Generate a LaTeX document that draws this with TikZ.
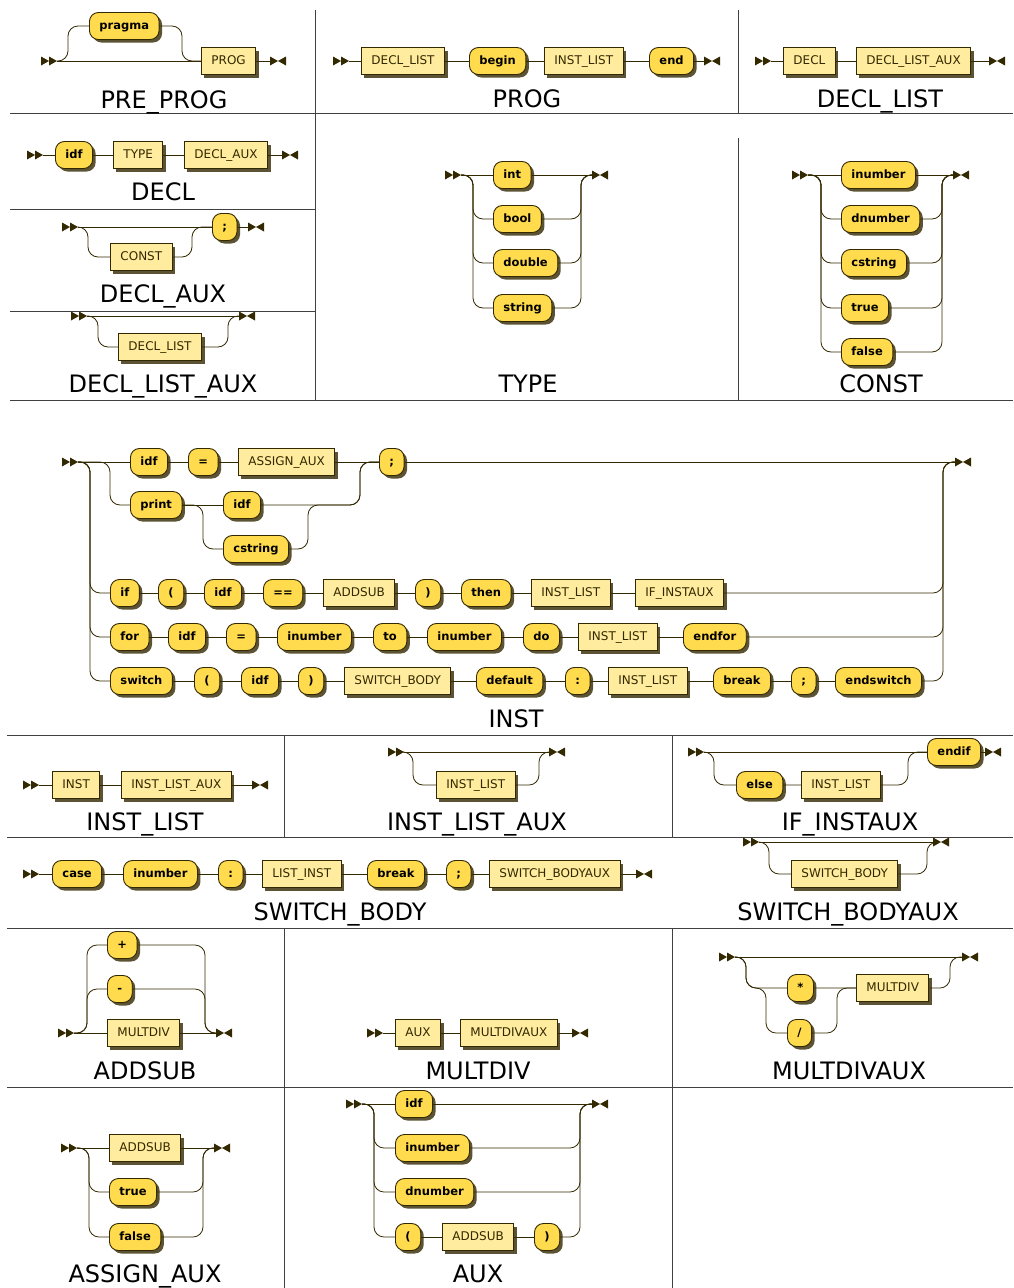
\documentclass[tikz,border=0pt]{standalone}
\usepackage{fontspec}
\setmainfont{DejaVu Sans}
\usetikzlibrary{shadows}
\definecolor{rrline}{HTML}{332900}
\definecolor{termfill}{HTML}{FFDB4D}
\definecolor{ntfill}{HTML}{FFEC9E}
\tikzset{
	rrbox/.style={draw=rrline, line width=.9pt, anchor=west, minimum height=27pt, inner xsep=10pt, inner ysep=0pt,
		text height=9pt, text depth=2.5pt,
		drop shadow={shadow xshift=3pt, shadow yshift=-3pt, fill=rrline, opacity=.8}},
	term/.style={rrbox, fill=termfill, rounded corners=9pt, text=black, font=\fontsize{11.5}{13}\selectfont\bfseries},
	nterm/.style={rrbox, fill=ntfill, text=rrline, font=\fontsize{12}{14}\selectfont},
	rail/.style={draw=rrline, line width=.8pt, rounded corners=10pt},
	rrtitle/.style={anchor=base, font=\fontsize{24}{28}\selectfont},
	cellline/.style={draw=black!75, line width=1pt},
	rrstart/.pic={\fill[rrline] (0,-4.5) -- (8,0) -- (0,4.5) -- cycle (8,-4.5) -- (16,0) -- (8,4.5) -- cycle;
		\coordinate (-out) at (16,0);},
	rrend/.pic={\fill[rrline] (0,-4.5) -- (8,0) -- (0,4.5) -- cycle (16,-4.5) -- (8,0) -- (16,4.5) -- cycle;
		\coordinate (-in) at (0,0);},
}
\begin{document}
\begin{tikzpicture}[x=1pt,y=-1pt]
		\fill[white] (0,0) rectangle (1013,1288);
		\useasboundingbox (0,0) rectangle (1013,1288);
		% table
		\draw[cellline] (10,113)--(1013,113) (10,209)--(315,209) (10,311)--(315,311) (10,400)--(1013,400)
			(315,10)--(315,400) (738,10)--(738,113) (738,138)--(738,400)
			(7,735)--(1013,735) (7,837)--(1013,837) (7,928)--(1013,928) (7,1087)--(1013,1087)
			(284,735)--(284,837) (672,735)--(672,837) (284,928)--(284,1288) (672,928)--(672,1288);
		% PRE_PROG
		\pic (pp0) at (41,61) {rrstart};
		\node[term] (ppPragma) at (89,26) {pragma};
		\node[nterm] (ppProg) at (201,61) {PROG};
		\pic (pp1) at (270,61) {rrend};
		\draw[rail] (pp0-out) -- (ppProg) -- (pp1-in);
		\draw[rail] (pp0-out) -| (68,26) -- (ppPragma.west);
		\draw[rail] (ppPragma.east) -| (182,61) -- (ppProg.west);
		\node[rrtitle] (ttPreProg) at (164,108) {PRE\_PROG};
		% PROG
		\pic (pg0) at (333,61) {rrstart};
		\node[nterm] (pgDecl) at (361,61) {DECL\_LIST};
		\node[term] (pgBegin) at (469,61) {begin};
		\node[nterm] (pgInst) at (544,61) {INST\_LIST};
		\node[term] (pgEnd) at (649,61) {end};
		\pic (pg1) at (704,61) {rrend};
		\draw[rail] (pg0-out) -- (pgDecl) -- (pgBegin) -- (pgInst) -- (pgEnd) -- (pg1-in);
		\node[rrtitle] (ttProg) at (527,107) {PROG};
		% DECL_LIST
		\pic (dl0) at (755,61) {rrstart};
		\node[nterm] (dlDecl) at (783,61) {DECL};
		\node[nterm] (dlAux) at (856,61) {DECL\_LIST\_AUX};
		\pic (dl1) at (989,61) {rrend};
		\draw[rail] (dl0-out) -- (dlDecl) -- (dlAux) -- (dl1-in);
		\node[rrtitle] (ttDeclList) at (880,107) {DECL\_LIST};
		% DECL
		\pic (dc0) at (27,155) {rrstart};
		\node[term] (dcIdf) at (55,155) {idf};
		\node[nterm] (dcType) at (113,155) {TYPE};
		\node[nterm] (dcAux) at (184,155) {DECL\_AUX};
		\pic (dc1) at (282,155) {rrend};
		\draw[rail] (dc0-out) -- (dcIdf) -- (dcType) -- (dcAux) -- (dc1-in);
		\node[rrtitle] (ttDecl) at (163,200) {DECL};
		% DECL_AUX
		\pic (da0) at (62,227) {rrstart};
		\node[nterm] (daConst) at (110,257) {CONST};
		\node[term] (daSemi) at (212,227) {;};
		\pic (da1) at (248,227) {rrend};
		\draw[rail] (da0-out) -- (daSemi) -- (da1-in);
		\draw[rail] (da0-out) -| (88,257) -- (daConst.west);
		\draw[rail] (daConst.east) -| (192,227) -- (daSemi.west);
		\node[rrtitle] (ttDeclAux) at (163,302) {DECL\_AUX};
		% DECL_LIST_AUX
		\pic (dx0) at (71,316) {rrstart};
		\node[nterm] (dxList) at (118,347) {DECL\_LIST};
		\pic (dx1) at (239,316) {rrend};
		\draw[rail] (dx0-out) -- (dx1-in);
		\draw[rail] (dx0-out) -| (98,347) -- (dxList.west);
		\draw[rail] (dxList.east) -| (228,316) -- (dx1-in);
		\node[rrtitle] (ttDeclListAux) at (163,392) {DECL\_LIST\_AUX};
		% TYPE
		\pic (ty0) at (445,175) {rrstart};
		\node[term] (tyInt) at (493,175) {int};
		\node[term] (tyBool) at (493,219) {bool};
		\node[term] (tyDouble) at (493,263) {double};
		\node[term] (tyString) at (493,308) {string};
		\pic (ty1) at (592,175) {rrend};
		\draw[rail] (ty0-out) -- (tyInt) -- (ty1-in);
		\foreach \n/\y in {tyBool/219,tyDouble/263,tyString/308}{
			\draw[rail] (ty0-out) -| (473,\y) -- (\n.west);
			\draw[rail] (\n.east) -| (581,175) -- (ty1-in);
		}
		\node[rrtitle] (ttType) at (528,392) {TYPE};
		% CONST
		\pic (cs0) at (792,175) {rrstart};
		\node[term] (csInum) at (841,175) {inumber};
		\node[term] (csDnum) at (841,219) {dnumber};
		\node[term] (csStr) at (841,263) {cstring};
		\node[term] (csTrue) at (841,308) {true};
		\node[term] (csFalse) at (841,352) {false};
		\pic (cs1) at (953,175) {rrend};
		\draw[rail] (cs0-out) -- (csInum) -- (cs1-in);
		\foreach \n/\y in {csDnum/219,csStr/263,csTrue/308,csFalse/352}{
			\draw[rail] (cs0-out) -| (821,\y) -- (\n.west);
			\draw[rail] (\n.east) -| (942,175) -- (cs1-in);
		}
		\node[rrtitle] (ttConst) at (881,392) {CONST};
		% INST
		\pic (in0) at (62,462) {rrstart};
		\node[term] (inIdf) at (130,462) {idf};
		\node[term] (inEq) at (188,462) {=};
		\node[nterm] (inAssign) at (238,462) {ASSIGN\_AUX};
		\node[term] (inSemi) at (379,462) {;};
		\pic (in1) at (955,462) {rrend};
		\draw[rail] (in0-out) -- (inIdf) -- (inEq) -- (inAssign) -- (inSemi) -- (in1-in);
		\node[term] (inPrint) at (130,505) {print};
		\node[term] (inPIdf) at (223,505) {idf};
		\node[term] (inPStr) at (223,549) {cstring};
		\draw[rail] (in0-out) -| (110,505) -- (inPrint.west);
		\draw[rail] (inPrint) -- (inPIdf);
		\draw[rail] (inPrint.east) -| (203,549) -- (inPStr.west);
		\draw[rail] (inPIdf.east) -| (360,462) -- (inSemi.west);
		\draw[rail] (inPStr.east) -| (308,505) -| (360,462) -- (inSemi.west);
		\node[term] (inIf) at (110,593) {if};
		\node[term] (inIfLp) at (158,593) {(};
		\node[term] (inIfIdf) at (204,593) {idf};
		\node[term] (inIfEq) at (263,593) {==};
		\node[nterm] (inIfAdd) at (323,593) {ADDSUB};
		\node[term] (inIfRp) at (415,593) {)};
		\node[term] (inThen) at (461,593) {then};
		\node[nterm] (inIfList) at (531,593) {INST\_LIST};
		\node[nterm] (inIfAux) at (635,593) {IF\_INSTAUX};
		\draw[rail] (inIf) -- (inIfLp) -- (inIfIdf) -- (inIfEq) -- (inIfAdd) -- (inIfRp) -- (inThen) -- (inIfList) -- (inIfAux);
		\node[term] (inFor) at (110,637) {for};
		\node[term] (inForIdf) at (168,637) {idf};
		\node[term] (inForEq) at (226,637) {=};
		\node[term] (inForFrom) at (277,637) {inumber};
		\node[term] (inTo) at (373,637) {to};
		\node[term] (inForTo) at (427,637) {inumber};
		\node[term] (inDo) at (523,637) {do};
		\node[nterm] (inForList) at (578,637) {INST\_LIST};
		\node[term] (inEndfor) at (683,637) {endfor};
		\draw[rail] (inFor) -- (inForIdf) -- (inForEq) -- (inForFrom) -- (inTo) -- (inForTo) -- (inDo) -- (inForList) -- (inEndfor);
		\node[term] (inSwitch) at (110,681) {switch};
		\node[term] (inSwLp) at (194,681) {(};
		\node[term] (inSwIdf) at (241,681) {idf};
		\node[term] (inSwRp) at (298,681) {)};
		\node[nterm] (inSwBody) at (344,681) {SWITCH\_BODY};
		\node[term] (inDefault) at (476,681) {default};
		\node[term] (inColon) at (565,681) {:};
		\node[nterm] (inSwList) at (608,681) {INST\_LIST};
		\node[term] (inBreak) at (713,681) {break};
		\node[term] (inSwSemi) at (791,681) {;};
		\node[term] (inEndsw) at (835,681) {endswitch};
		\draw[rail] (inSwitch) -- (inSwLp) -- (inSwIdf) -- (inSwRp) -- (inSwBody) -- (inDefault) -- (inColon) -- (inSwList) -- (inBreak) -- (inSwSemi) -- (inEndsw);
		\foreach \a/\b/\y in {inIf/inIfAux/593,inFor/inEndfor/637,inSwitch/inEndsw/681}{
			\draw[rail] (in0-out) -| (90,\y) -- (\a.west);
			\draw[rail] (\b.east) -| (943,462) -- (in1-in);
		}
		\node[rrtitle] (ttInst) at (516,727) {INST};
		% INST_LIST
		\pic (il0) at (23,785) {rrstart};
		\node[nterm] (ilInst) at (52,785) {INST};
		\node[nterm] (ilAux) at (121,785) {INST\_LIST\_AUX};
		\pic (il1) at (252,785) {rrend};
		\draw[rail] (il0-out) -- (ilInst) -- (ilAux) -- (il1-in);
		\node[rrtitle] (ttInstList) at (145,830) {INST\_LIST};
		% INST_LIST_AUX
		\pic (ia0) at (388,752) {rrstart};
		\node[nterm] (iaList) at (436,785) {INST\_LIST};
		\pic (ia1) at (549,752) {rrend};
		\draw[rail] (ia0-out) -- (ia1-in);
		\draw[rail] (ia0-out) -| (413,785) -- (iaList.west);
		\draw[rail] (iaList.east) -| (539,752) -- (ia1-in);
		\node[rrtitle] (ttInstListAux) at (477,830) {INST\_LIST\_AUX};
		% IF_INSTAUX
		\pic (if0) at (688,752) {rrstart};
		\node[term] (ifEndif) at (927,752) {endif};
		\node[term] (ifElse) at (736,785) {else};
		\node[nterm] (ifList) at (801,785) {INST\_LIST};
		\pic (if1) at (985,752) {rrend};
		\draw[rail] (if0-out) -- (ifEndif) -- (if1-in);
		\draw[rail] (if0-out) -| (714,785) -- (ifElse) -- (ifList);
		\draw[rail] (ifList.east) -| (908,752) -- (ifEndif.west);
		\node[rrtitle] (ttIfInstaux) at (850,830) {IF\_INSTAUX};
		% SWITCH_BODY
		\pic (sb0) at (23,874) {rrstart};
		\node[term] (sbCase) at (52,874) {case};
		\node[term] (sbInum) at (123,874) {inumber};
		\node[term] (sbColon) at (218,874) {:};
		\node[nterm] (sbList) at (262,874) {LIST\_INST};
		\node[term] (sbBreak) at (367,874) {break};
		\node[term] (sbSemi) at (446,874) {;};
		\node[nterm] (sbAux) at (489,874) {SWITCH\_BODYAUX};
		\pic (sb1) at (636,874) {rrend};
		\draw[rail] (sb0-out) -- (sbCase) -- (sbInum) -- (sbColon) -- (sbList) -- (sbBreak) -- (sbSemi) -- (sbAux) -- (sb1-in);
		\node[rrtitle] (ttSwitchBody) at (340,920) {SWITCH\_BODY};
		% SWITCH_BODYAUX
		\pic (sa0) at (743,842) {rrstart};
		\node[nterm] (saBody) at (791,874) {SWITCH\_BODY};
		\pic (sa1) at (933,842) {rrend};
		\draw[rail] (sa0-out) -- (sa1-in);
		\draw[rail] (sa0-out) -| (769,874) -- (saBody.west);
		\draw[rail] (saBody.east) -| (927,842) -- (sa1-in);
		\node[rrtitle] (ttSwitchBodyAux) at (848,920) {SWITCH\_BODYAUX};
		% ADDSUB
		\pic (as0) at (58,1033) {rrstart};
		\node[term] (asPlus) at (107,945) {+};
		\node[term] (asMinus) at (107,989) {-};
		\node[nterm] (asMult) at (107,1033) {MULTDIV};
		\pic (as1) at (216,1033) {rrend};
		\draw[rail] (as0-out) -- (asMult) -- (as1-in);
		\foreach \n/\y in {asPlus/945,asMinus/989}{
			\draw[rail] (as0-out) -| (87,\y) -- (\n.west);
			\draw[rail] (\n.east) -| (205,1033) -- (as1-in);
		}
		\node[rrtitle] (ttAddsub) at (145,1079) {ADDSUB};
		% MULTDIV
		\pic (md0) at (367,1033) {rrstart};
		\node[nterm] (mdAux) at (395,1033) {AUX};
		\node[nterm] (mdMultAux) at (460,1033) {MULTDIVAUX};
		\pic (md1) at (572,1033) {rrend};
		\draw[rail] (md0-out) -- (mdAux) -- (mdMultAux) -- (md1-in);
		\node[rrtitle] (ttMultdiv) at (478,1079) {MULTDIV};
		% MULTDIVAUX
		\pic (mx0) at (719,957) {rrstart};
		\node[term] (mxStar) at (787,988) {*};
		\node[term] (mxSlash) at (787,1033) {/};
		\node[nterm] (mxMult) at (856,988) {MULTDIV};
		\pic (mx1) at (962,957) {rrend};
		\draw[rail] (mx0-out) -- (mx1-in);
		\draw[rail] (mx0-out) -| (746,988) -- (mxStar) -- (mxMult);
		\draw[rail] (mx0-out) -| (746,988) -| (766,1033) -- (mxSlash.west);
		\draw[rail] (mxSlash.east) -| (837,988) -- (mxMult.west);
		\draw[rail] (mxMult.east) -| (950,957) -- (mx1-in);
		\node[rrtitle] (ttMultdivaux) at (849,1079) {MULTDIVAUX};
		% ASSIGN_AUX
		\pic (aa0) at (61,1148) {rrstart};
		\node[nterm] (aaAdd) at (109,1148) {ADDSUB};
		\node[term] (aaTrue) at (109,1192) {true};
		\node[term] (aaFalse) at (109,1237) {false};
		\pic (aa1) at (214,1148) {rrend};
		\draw[rail] (aa0-out) -- (aaAdd) -- (aa1-in);
		\foreach \n/\y in {aaTrue/1192,aaFalse/1237}{
			\draw[rail] (aa0-out) -| (89,\y) -- (\n.west);
			\draw[rail] (\n.east) -| (203,1148) -- (aa1-in);
		}
		\node[rrtitle] (ttAssignAux) at (145,1282) {ASSIGN\_AUX};
		% AUX
		\pic (ax0) at (346,1104) {rrstart};
		\node[term] (axIdf) at (395,1104) {idf};
		\node[term] (axInum) at (395,1148) {inumber};
		\node[term] (axDnum) at (395,1192) {dnumber};
		\node[term] (axLp) at (395,1237) {(};
		\node[nterm] (axAdd) at (442,1237) {ADDSUB};
		\node[term] (axRp) at (534,1237) {)};
		\pic (ax1) at (592,1104) {rrend};
		\draw[rail] (ax0-out) -- (axIdf) -- (ax1-in);
		\draw[rail] (axLp) -- (axAdd) -- (axRp);
		\foreach \a/\b/\y in {axInum/axInum/1148,axDnum/axDnum/1192,axLp/axRp/1237}{
			\draw[rail] (ax0-out) -| (374,\y) -- (\a.west);
			\draw[rail] (\b.east) -| (580,1104) -- (ax1-in);
		}
		\node[rrtitle] (ttAux) at (478,1282) {AUX};
\end{tikzpicture}
\end{document}
